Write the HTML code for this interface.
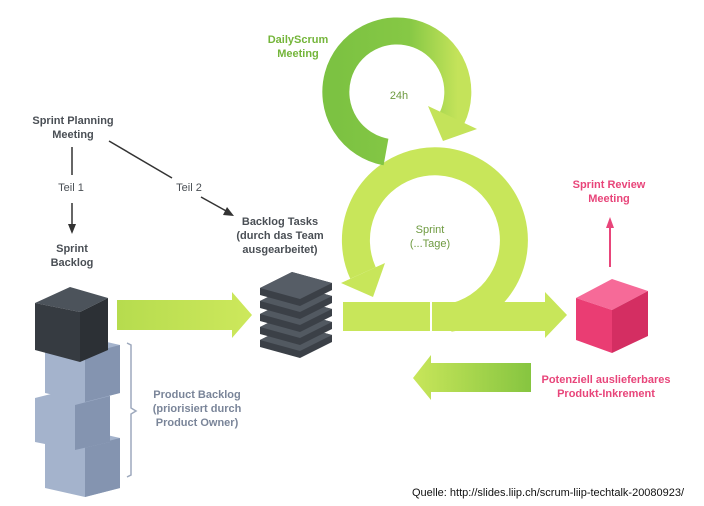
<!DOCTYPE html>
<html><head><meta charset="utf-8"><style>
html,body{margin:0;padding:0;background:#fff}
svg{display:block}
text{font-family:"Liberation Sans",sans-serif;font-weight:bold;font-size:11px}
</style></head><body>
<svg width="704" height="506" viewBox="0 0 704 506" xmlns="http://www.w3.org/2000/svg">
<defs>
<linearGradient id="gtop" x1="0" y1="0" x2="1" y2="0">
<stop offset="0" stop-color="#7cc242"/><stop offset="0.6" stop-color="#86c845"/><stop offset="1" stop-color="#c4e35a"/>
</linearGradient>
<linearGradient id="gret" x1="0" y1="0" x2="1" y2="0">
<stop offset="0" stop-color="#c8e65a"/><stop offset="1" stop-color="#86c540"/>
</linearGradient>
<linearGradient id="gr1" x1="0" y1="0" x2="1" y2="0">
<stop offset="0" stop-color="#b6dc4e"/><stop offset="1" stop-color="#cde85c"/>
</linearGradient>
</defs>

<!-- bottom sprint ring -->
<path d="M449,318 A79,79 0 1 0 363,273" fill="none" stroke="#c8e65a" stroke-width="28"/>
<polygon points="385,263 341,283 373,297" fill="#c8e65a"/>
<!-- top daily ring -->
<path d="M386,152 A61,61 0 1 1 452,118" fill="none" stroke="url(#gtop)" stroke-width="27"/>
<polygon points="477,129 428,106 443,141" fill="#c4e35a"/>

<!-- bars -->
<rect x="343" y="302" width="87" height="29" fill="#c8e65a"/>
<polygon points="432,302 545,302 545,292 567,315 545,338 545,331 432,331" fill="#c8e65a"/>
<!-- return arrow -->
<polygon points="531,363 431,363 431,355 413,378 431,400 431,392 531,392" fill="url(#gret)"/>
<!-- left arrow -->
<polygon points="117,300 232,300 232,292 252,315 232,338 232,330 117,330" fill="url(#gr1)"/>

<!-- light blocks -->
<g>
<polygon points="45,440 85,430 120,438 120,488 85,497 45,488" fill="#a4b3cc"/>
<polygon points="85,447 120,438 120,488 85,497" fill="#8494b0"/>
<polygon points="35,398 75,388 110,396 110,442 75,450 35,442" fill="#a4b3cc"/>
<polygon points="75,405 110,396 110,442 75,450" fill="#8494b0"/>
<polygon points="45,345 85,337 120,345 120,393 85,402 45,393" fill="#a4b3cc"/>
<polygon points="85,354 120,345 120,393 85,402" fill="#8494b0"/>
</g>
<!-- dark cube -->
<polygon points="35,303 70,287 108,298 80,312" fill="#4c535b"/>
<polygon points="35,303 80,312 80,362 35,350" fill="#363b41"/>
<polygon points="80,312 108,298 108,350 80,362" fill="#2c3035"/>

<!-- bracket -->
<path d="M127,343 L131,345 L131,408 L136,411 L131,414 L131,475 L127,477" fill="none" stroke="#9ea9bd" stroke-width="1.5"/>

<!-- stack -->
<g>
<polygon points="260,340 292,324 332,335 332,342 300,358 260,347" fill="#3b4047"/>
<polygon points="260,340 292,324 332,335 300,351" fill="#525961"/>
<polygon points="260,327 292,311 332,322 332,329 300,345 260,334" fill="#3b4047"/>
<polygon points="260,327 292,311 332,322 300,338" fill="#525961"/>
<polygon points="260,314 292,298 332,309 332,316 300,332 260,321" fill="#3b4047"/>
<polygon points="260,314 292,298 332,309 300,325" fill="#525961"/>
<polygon points="260,301 292,285 332,296 332,303 300,319 260,308" fill="#3b4047"/>
<polygon points="260,301 292,285 332,296 300,312" fill="#525961"/>
<polygon points="260,288 292,272 332,283 332,290 300,306 260,295" fill="#3b4047"/>
<polygon points="260,288 292,272 332,283 300,299" fill="#565d66"/>
</g>

<!-- pink cube -->
<polygon points="576,298 612,279 648,291 612,310" fill="#f66a98"/>
<polygon points="576,298 612,310 612,353 576,340" fill="#ea3d73"/>
<polygon points="612,310 648,291 648,336 612,353" fill="#d42e62"/>
<!-- pink arrow -->
<line x1="610" y1="267" x2="610" y2="226" stroke="#e8457a" stroke-width="2"/>
<polygon points="606,228 610,217 614,228" fill="#e8457a"/>

<!-- black connectors -->
<line x1="72" y1="147" x2="72" y2="175" stroke="#333" stroke-width="1.5"/>
<line x1="72" y1="203" x2="72" y2="228" stroke="#333" stroke-width="1.5"/>
<polygon points="68,224 72,234 76,224" fill="#333"/>
<line x1="109" y1="141" x2="172" y2="178" stroke="#333" stroke-width="1.5"/>
<line x1="201" y1="197" x2="228" y2="212" stroke="#333" stroke-width="1.5"/>
<polygon points="223,215 234,216 227,207" fill="#333"/>

<!-- texts -->
<g fill="#4a4f55" text-anchor="middle">
<text x="73" y="124">Sprint Planning</text>
<text x="73" y="138">Meeting</text>
<text x="72" y="252">Sprint</text>
<text x="72" y="266">Backlog</text>
<text x="280" y="225">Backlog Tasks</text>
<text x="280" y="239">(durch das Team</text>
<text x="280" y="253">ausgearbeitet)</text>
</g>
<g fill="#4a4f55" text-anchor="middle" font-weight="normal">
<text x="71" y="191" style="font-weight:normal">Teil 1</text>
<text x="189" y="191" style="font-weight:normal">Teil 2</text>
</g>
<g fill="#7a8599" text-anchor="middle">
<text x="197" y="398">Product Backlog</text>
<text x="197" y="412">(priorisiert durch</text>
<text x="197" y="426">Product Owner)</text>
</g>
<g fill="#74b53a" text-anchor="middle">
<text x="298" y="43">DailyScrum</text>
<text x="298" y="57">Meeting</text>
</g>
<g fill="#6e9a40" text-anchor="middle">
<text x="399" y="99" style="font-weight:normal">24h</text>
<text x="430" y="233" style="font-weight:normal">Sprint</text>
<text x="430" y="247" style="font-weight:normal">(...Tage)</text>
</g>
<g fill="#e8457a" text-anchor="middle">
<text x="609" y="188">Sprint Review</text>
<text x="609" y="202">Meeting</text>
<text x="606" y="383">Potenziell auslieferbares</text>
<text x="606" y="397">Produkt-Inkrement</text>
</g>
<text x="412" y="496" fill="#111" style="font-weight:normal;font-size:11px">Quelle: http://slides.liip.ch/scrum-liip-techtalk-20080923/</text>
</svg>
</body></html>
